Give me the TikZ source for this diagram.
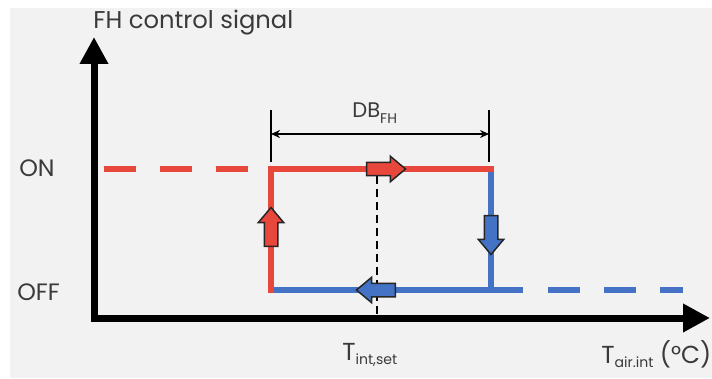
\documentclass[tikz,border=0pt]{standalone}
\usepackage{fontspec}
\setmainfont{Poppins}
\usetikzlibrary{arrows.meta,shapes.arrows}

\definecolor{hotred}{HTML}{E8473C}
\definecolor{coolblue}{HTML}{4472C4}
\definecolor{panelgray}{HTML}{F2F2F2}
\definecolor{txtgray}{HTML}{3A3A3A}

\newcommand{\lowsub}[2][-0.35ex]{\raisebox{#1}{\fontsize{8}{8}\selectfont #2}}

\tikzset{
  axisline/.style={line width=0.14cm, line join=miter,
    {Triangle[length=0.54cm,width=0.54cm]}-{Triangle[length=0.54cm,width=0.54cm]}},
  hotline/.style={draw=hotred, line width=0.12cm},
  coolline/.style={draw=coolblue, line width=0.12cm},
  longdash/.style={dash pattern=on 0.64cm off 0.48cm},
  setline/.style={line width=0.05cm, dash pattern=on 0.16cm off 0.1cm},
  dimline/.style={line width=0.03cm},
  blockarrow/.style={single arrow, draw=black!85, line width=0.03cm,
    inner sep=0.12cm, minimum height=0.78cm, single arrow head extend=0.12cm,
    single arrow tip angle=80},
  lbl/.style={text=txtgray, inner sep=0pt}
}

\begin{document}
\begin{tikzpicture}[x=0.02cm, y=-0.02cm]

  % --- sfondo ---
  \useasboundingbox (0,0) rectangle (712,378);
  \fill[panelgray] (10,8) rectangle (712,378);

  % --- punti ---
  \coordinate (ytip) at (94,37);
  \coordinate (O) at (94,318);
  \coordinate (xtip) at (710,318);
  \coordinate (onL) at (104,169);
  \coordinate (onD) at (248,169);
  \coordinate (onA) at (271,169);
  \coordinate (onB) at (491,169);
  \coordinate (offA) at (271,290);
  \coordinate (offB) at (491,290);
  \coordinate (offE) at (523,290);
  \coordinate (offL) at (548,290);
  \coordinate (offR) at (683,290);
  \coordinate (setTop) at (377,176);
  \coordinate (set) at (377,318);

  % --- assi ---
  \draw[axisline] (ytip) -- (O) -- (xtip);
  \node[lbl, anchor=base west, font=\fontsize{13.8}{16}\selectfont] (ylbl) at (93,29) {FH control signal};
  \node[lbl, anchor=base west, font=\fontsize{14}{16}\selectfont] (xlbl) at (601,363) {T\lowsub{air.int} (°C)};

  % --- livelli ON / OFF ---
  \node[lbl, anchor=base west, font=\fontsize{13.5}{16}\selectfont] (on) at (19,176) {ON};
  \node[lbl, anchor=base west, font=\fontsize{13.5}{16}\selectfont] (off) at (17,300) {OFF};

  % --- setpoint ---
  \draw[setline] (setTop) -- (set);
  \node[lbl, anchor=base west, font=\fontsize{14}{16}\selectfont] (setlbl) at (342,360) {T\lowsub{int,set}};

  % --- ramo blu (spento) ---
  \draw[coolline, line cap=rect] (onB) -- (offB);
  \draw[coolline] (offA) -- (offE);
  \draw[coolline, longdash] (offL) -- (offR);

  % --- ramo rosso (acceso) ---
  \draw[hotline, longdash] (onL) -- (onD);
  \draw[hotline, line cap=rect, line join=miter] (offA) -- (onA) -- (onB);

  % --- banda morta ---
  \coordinate (dbL) at (271,134);
  \coordinate (dbR) at (489,134);
  \draw[dimline] (271,110) -- (271,162);
  \draw[dimline] (489,110) -- (489,162);
  \draw[dimline, {Stealth[length=0.18cm,width=0.16cm]}-{Stealth[length=0.18cm,width=0.16cm]}] (dbL) -- (dbR);
  \node[lbl, anchor=base west, font=\fontsize{12}{14}\selectfont] (db) at (352,118) {DB\lowsub[-0.5ex]{FH}};

  % --- frecce di verso ---
  \node[blockarrow, fill=hotred] (goR) at (382,169) {};
  \node[blockarrow, fill=hotred, rotate=90] (goU) at (271,231) {};
  \node[blockarrow, fill=coolblue, rotate=-90] (goD) at (491,231) {};
  \node[blockarrow, fill=coolblue, rotate=180] (goL) at (380,290) {};

\end{tikzpicture}
\end{document}
